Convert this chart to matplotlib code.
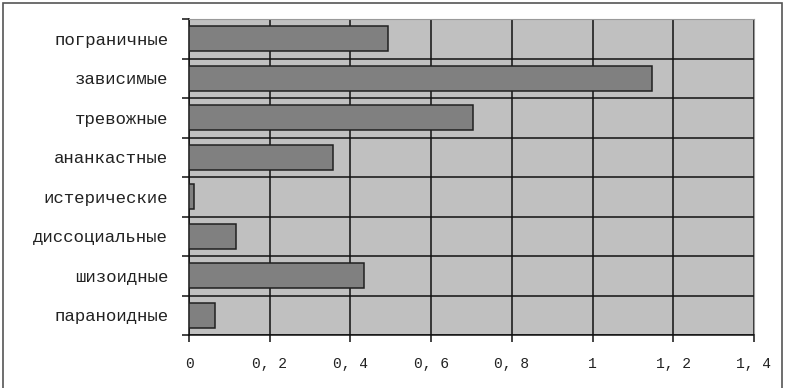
import matplotlib.pyplot as plt
import numpy as np
from matplotlib.patches import Rectangle

# listed bottom to top
categories = ["параноидные", "шизоидные", "диссоциальные", "истерические",
              "ананкастные", "тревожные", "зависимые", "пограничные"]
values = [0.064, 0.434, 0.116, 0.013, 0.356, 0.704, 1.148, 0.492]
xticks = [0, 0.2, 0.4, 0.6, 0.8, 1.0, 1.2, 1.4]
xtick_labels = ["0", "0, 2", "0, 4", "0, 6", "0, 8", "1", "1, 2", "1, 4"]

plt.rcParams["font.family"] = ["Liberation Mono", "DejaVu Sans Mono"]

fig = plt.figure(figsize=(7.9, 3.88), dpi=100)
ax = fig.add_axes([189 / 790, 1 - 335 / 388, 565 / 790, 316 / 388])
ax.set_facecolor("#c0c0c0")

y = np.arange(len(categories))
ax.barh(y, values, height=0.63, color="#808080", edgecolor="#202020",
        linewidth=1.1, zorder=3)

ax.set_xlim(0, 1.4)
ax.set_ylim(-0.5, len(categories) - 0.5)
ax.set_xticks(xticks, xtick_labels)
ax.set_yticks(y, categories)
ax.set_yticks(np.arange(len(categories) + 1) - 0.5, minor=True)

ax.tick_params(axis="y", which="major", length=0, pad=15, labelsize=12.5,
               labelcolor="#222222")
ax.tick_params(axis="y", which="minor", length=5, width=1.1, direction="out",
               color="#111111")
ax.tick_params(axis="x", length=5, width=1.1, direction="out", pad=11,
               labelsize=10.5, color="#111111", labelcolor="#222222")

ax.grid(axis="x", which="major", color="#111111", linewidth=1.1, zorder=1)
ax.grid(axis="y", which="minor", color="#111111", linewidth=1.1, zorder=1)
ax.set_axisbelow(True)

for s in ["top", "right"]:
    ax.spines[s].set_color("#9a9a9a")
for s in ["left", "bottom"]:
    ax.spines[s].set_color("#111111")
    ax.spines[s].set_linewidth(1.1)

# outer chart frame
fig.patches.append(Rectangle((3 / 790, -0.02), 779 / 790, 1 - 3 / 388 + 0.02,
                             transform=fig.transFigure, fill=False,
                             edgecolor="#555555", linewidth=1.2))

fig.savefig("out.png", dpi=100)
